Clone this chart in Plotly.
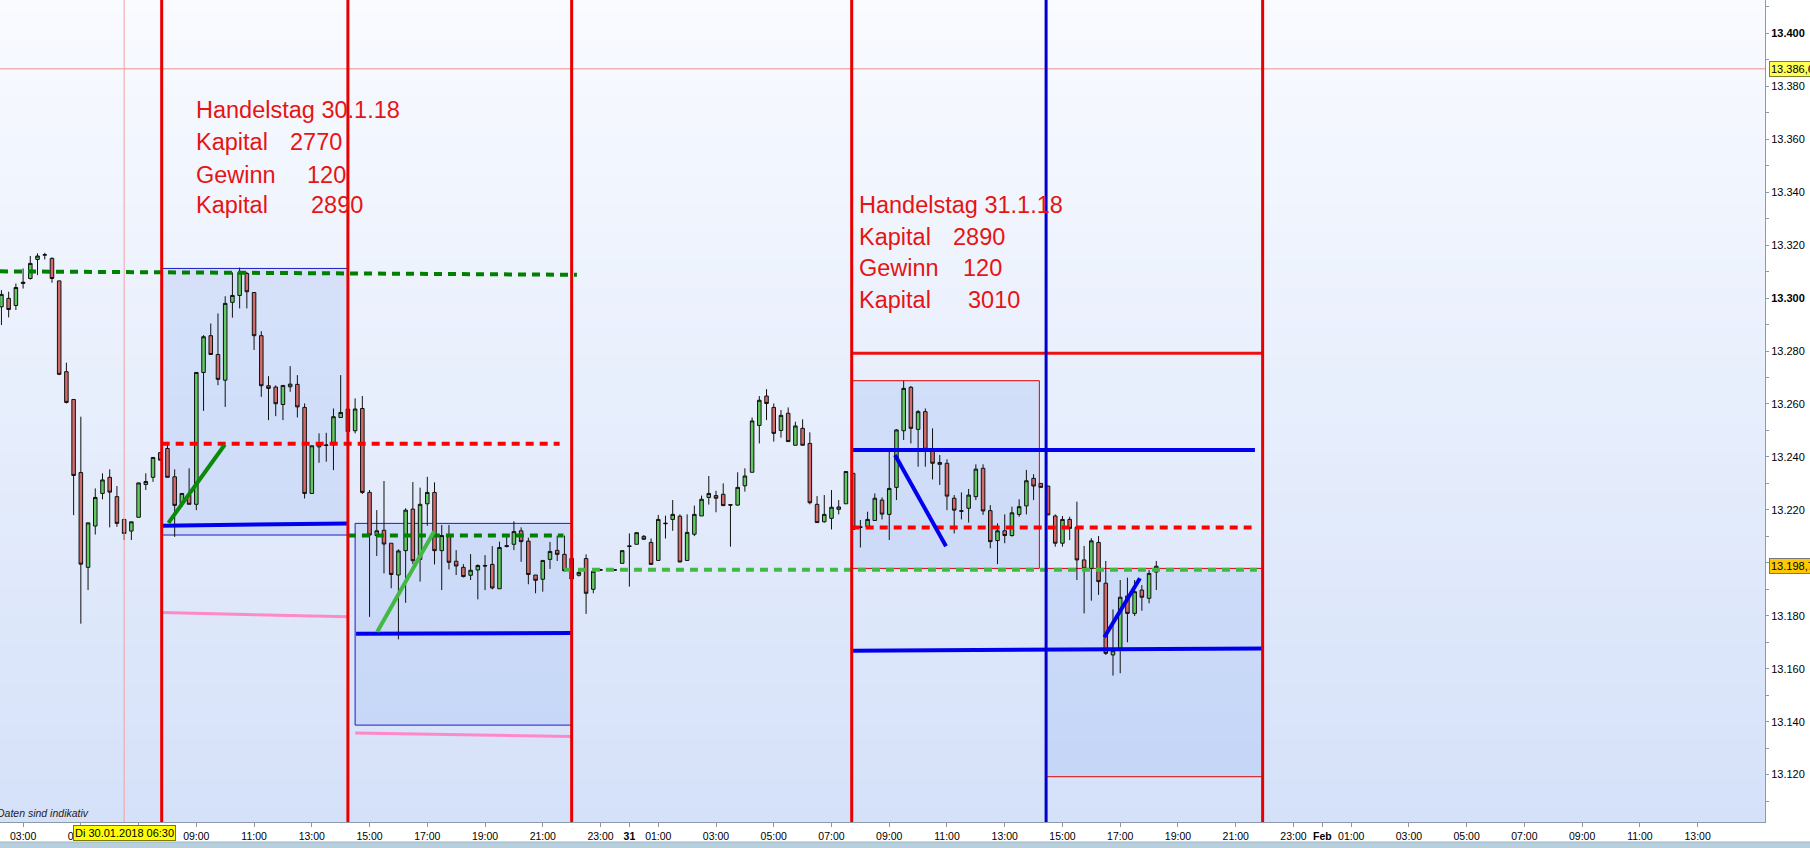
import plotly.graph_objects as go
import pandas as pd

# ---------------- data ----------------
candle_times = pd.date_range("2018-01-30 02:15", periods=161, freq="15min")

open_ = [13296.7, 13299.9, 13297.2, 13305.5, 13307.4, 13314.6, 13316.2, 13315.0, 13306.5, 13272.2,
         13261.7, 13234.1, 13198.3, 13213.9, 13226.2, 13232.3, 13225.0, 13216.4, 13212.0, 13217.2,
         13229.6, 13232.3, 13241.6, 13243.2, 13232.5, 13222.4, 13225.6, 13222.1, 13271.9, 13285.8,
         13278.7, 13269.0, 13298.4, 13301.0, 13309.3, 13302.1, 13285.8, 13266.9, 13266.4, 13259.8,
         13266.5, 13267.4, 13258.7, 13226.2, 13243.8, 13244.3, 13245.5, 13254.9, 13258.1, 13249.9,
         13258.3, 13226.6, 13210.3, 13212.3, 13207.4, 13195.4, 13204.6, 13220.3, 13201.3, 13222.3,
         13226.6, 13204.6, 13210.3, 13200.6, 13198.3, 13195.3, 13197.3, 13199.0, 13199.4, 13190.2,
         13206.5, 13207.0, 13212.1, 13208.2, 13195.4, 13193.8, 13201.3, 13204.7, 13203.2, 13201.7,
         13195.3, 13201.6, 13190.0, 13197.2, 13197.3, 13197.3, 13199.8, 13206.4, 13207.0, 13210.0,
         13207.7, 13200.9, 13215.0, 13216.4, 13217.6, 13200.9, 13210.8, 13217.7, 13224.7, 13225.4,
         13225.9, 13222.0, 13221.8, 13229.1, 13234.2, 13251.9, 13263.0, 13258.7, 13250.0, 13256.5,
         13244.4, 13250.8, 13245.1, 13222.1, 13215.5, 13216.8, 13220.2, 13222.3, 13233.8, 13213.6,
         13213.6, 13216.0, 13223.7, 13218.3, 13228.5, 13249.9, 13266.3, 13250.4, 13257.1, 13242.9,
         13237.2, 13237.6, 13224.4, 13219.7, 13220.6, 13225.0, 13235.7, 13219.7, 13208.4, 13212.1,
         13210.3, 13218.3, 13221.5, 13231.9, 13230.0, 13229.0, 13217.7, 13207.4, 13216.4, 13213.4,
         13201.1, 13197.9, 13207.7, 13192.3, 13165.2, 13167.7, 13187.5, 13180.9, 13189.7, 13186.6,
         13196.5]
high = [13303.0, 13302.4, 13305.5, 13311.2, 13315.9, 13316.9, 13317.1, 13315.4, 13306.5, 13275.6,
        13261.7, 13255.2, 13215.1, 13228.1, 13233.8, 13235.3, 13229.0, 13216.4, 13215.5, 13230.2,
        13233.8, 13239.8, 13241.8, 13245.7, 13235.3, 13226.2, 13235.7, 13271.9, 13286.0, 13290.4,
        13294.2, 13300.7, 13309.7, 13311.5, 13309.9, 13302.1, 13287.5, 13270.5, 13267.0, 13267.0,
        13274.3, 13270.9, 13260.2, 13244.2, 13248.9, 13249.1, 13258.3, 13270.9, 13258.1, 13262.1,
        13263.0, 13227.5, 13219.9, 13230.9, 13207.4, 13205.1, 13220.6, 13230.5, 13228.4, 13232.5,
        13230.4, 13214.3, 13214.3, 13204.8, 13199.5, 13203.3, 13199.4, 13202.9, 13206.3, 13208.0,
        13210.8, 13215.7, 13213.4, 13209.5, 13195.4, 13200.9, 13207.9, 13210.3, 13210.3, 13201.7,
        13197.3, 13203.2, 13197.9, 13197.7, 13197.6, 13197.6, 13204.6, 13211.1, 13211.4, 13210.5,
        13209.2, 13218.1, 13217.8, 13223.7, 13218.3, 13218.3, 13221.6, 13225.4, 13232.8, 13227.2,
        13230.0, 13222.0, 13234.2, 13235.7, 13254.9, 13263.0, 13265.6, 13260.2, 13257.7, 13258.7,
        13253.3, 13254.2, 13249.3, 13225.2, 13225.6, 13227.5, 13223.7, 13234.5, 13233.8, 13216.2,
        13219.3, 13226.2, 13224.7, 13242.0, 13250.5, 13268.7, 13266.8, 13257.7, 13258.3, 13250.8,
        13240.7, 13239.1, 13225.6, 13226.6, 13227.9, 13237.2, 13237.2, 13221.8, 13214.9, 13218.3,
        13221.2, 13224.0, 13235.1, 13233.5, 13230.0, 13229.0, 13218.3, 13217.7, 13217.4, 13223.1,
        13206.4, 13209.3, 13210.1, 13200.7, 13182.4, 13193.5, 13194.4, 13193.5, 13191.6, 13197.3,
        13200.7]
low = [13289.8, 13292.7, 13295.5, 13303.6, 13307.0, 13308.7, 13314.6, 13305.8, 13270.9, 13260.2,
       13218.0, 13177.0, 13189.7, 13210.7, 13224.0, 13213.4, 13213.6, 13208.6, 13208.6, 13217.2,
       13227.5, 13230.6, 13238.6, 13232.3, 13209.8, 13221.2, 13222.1, 13219.9, 13257.4, 13278.5,
       13267.1, 13258.9, 13292.6, 13296.1, 13296.1, 13280.4, 13262.7, 13253.9, 13255.4, 13253.9,
       13264.6, 13254.9, 13224.3, 13226.2, 13237.8, 13238.2, 13235.0, 13254.9, 13249.6, 13248.9,
       13226.0, 13179.6, 13202.6, 13196.0, 13190.4, 13171.1, 13184.9, 13199.5, 13192.9, 13214.0,
       13199.4, 13189.7, 13197.5, 13195.4, 13194.5, 13193.5, 13186.2, 13189.7, 13190.0, 13190.2,
       13205.8, 13204.8, 13200.4, 13191.9, 13188.5, 13189.1, 13197.7, 13200.7, 13196.7, 13193.9,
       13194.8, 13180.7, 13188.5, 13197.0, 13197.0, 13197.0, 13199.8, 13191.0, 13207.0, 13208.6,
       13199.4, 13200.9, 13209.2, 13212.1, 13200.3, 13200.9, 13210.1, 13217.7, 13222.0, 13219.1,
       13221.6, 13206.1, 13221.6, 13226.9, 13234.2, 13245.1, 13253.9, 13245.8, 13247.3, 13245.8,
       13244.4, 13244.4, 13222.1, 13215.2, 13215.2, 13212.6, 13218.3, 13222.3, 13212.6, 13205.8,
       13213.6, 13216.0, 13216.4, 13208.6, 13223.7, 13246.4, 13245.1, 13236.3, 13236.3, 13231.5,
       13229.4, 13219.9, 13211.1, 13216.4, 13215.2, 13223.7, 13218.1, 13205.5, 13199.5, 13207.4,
       13209.9, 13217.4, 13218.3, 13223.7, 13228.5, 13218.1, 13206.1, 13206.1, 13208.6, 13193.5,
       13180.9, 13185.7, 13187.9, 13165.2, 13157.4, 13158.3, 13170.0, 13179.9, 13181.9, 13184.7,
       13189.7]
close = [13301.4, 13295.7, 13304.0, 13306.0, 13313.1, 13315.9, 13316.4, 13307.4, 13271.2, 13260.6,
         13233.0, 13199.5, 13215.1, 13224.7, 13231.3, 13226.7, 13214.9, 13211.1, 13215.5, 13230.2,
         13230.7, 13239.8, 13238.8, 13232.3, 13221.7, 13226.2, 13222.1, 13271.9, 13285.4, 13278.7,
         13269.3, 13298.0, 13301.0, 13309.7, 13302.4, 13285.8, 13266.9, 13265.9, 13260.1, 13267.0,
         13267.5, 13258.9, 13226.2, 13244.2, 13244.8, 13244.5, 13255.2, 13256.8, 13249.6, 13258.1,
         13226.6, 13210.5, 13212.1, 13207.1, 13195.6, 13204.5, 13219.9, 13200.8, 13222.1, 13226.6,
         13204.6, 13210.3, 13200.2, 13198.8, 13194.8, 13197.2, 13199.0, 13198.8, 13190.5, 13205.8,
         13206.2, 13211.8, 13208.0, 13195.6, 13193.4, 13200.9, 13204.3, 13203.2, 13197.0, 13193.9,
         13196.4, 13188.5, 13196.8, 13197.4, 13197.3, 13197.3, 13204.6, 13206.2, 13211.4, 13208.9,
         13199.4, 13216.4, 13214.8, 13218.3, 13200.3, 13211.5, 13218.3, 13224.0, 13226.2, 13224.4,
         13221.6, 13221.8, 13228.5, 13232.8, 13253.6, 13261.4, 13260.2, 13248.9, 13255.7, 13245.8,
         13251.7, 13244.4, 13222.7, 13215.2, 13218.3, 13221.0, 13221.1, 13234.5, 13212.6, 13213.4,
         13216.4, 13224.4, 13218.4, 13228.1, 13250.2, 13265.9, 13250.8, 13257.1, 13242.9, 13237.6,
         13237.9, 13225.2, 13219.9, 13219.5, 13225.6, 13235.4, 13219.6, 13208.0, 13212.1, 13210.3,
         13218.9, 13221.2, 13231.0, 13229.0, 13228.5, 13218.1, 13207.4, 13216.4, 13213.0, 13201.1,
         13197.9, 13208.3, 13192.9, 13165.8, 13166.8, 13187.0, 13180.9, 13189.1, 13187.0, 13196.0,
         13198.7]

# vertical session markers
red_verticals = ["2018-01-30 07:48", "2018-01-30 14:15", "2018-01-30 22:00",
                 "2018-01-31 07:42", "2018-01-31 21:56"]
blue_verticals = ["2018-01-31 14:26"]
crosshair_time = "2018-01-30 06:30"
crosshair_price = 13386.6
last_price = 13198.7

# shaded ranges: (start, end, low, high, outline colour)
ranges = [
    ("2018-01-30 07:48", "2018-01-30 14:15", 13210.5, 13311.2, "#1c1cc8"),
    ("2018-01-30 14:30", "2018-01-30 22:00", 13138.7, 13214.9, "#1c1cc8"),
    ("2018-01-31 07:42", "2018-01-31 14:12", 13197.9, 13268.8, "#e00000"),
    ("2018-01-31 14:26", "2018-01-31 21:56", 13119.2, 13197.9, "#e00000"),
]

# level lines: (t0, v0, t1, v1, colour, width, dash)
levels = [
    ("2018-01-30 02:12", 13310.1, "2018-01-30 22:11", 13308.8, "#008000", 4, "8px,6px"),
    ("2018-01-30 07:48", 13245.0, "2018-01-30 21:35", 13245.0, "#ff0000", 4, "8px,6px"),
    ("2018-01-30 07:48", 13214.0, "2018-01-30 14:15", 13214.9, "#0000ee", 4, "solid"),
    ("2018-01-30 07:48", 13181.2, "2018-01-30 14:15", 13179.6, "#ff88c8", 3, "solid"),
    ("2018-01-30 08:02", 13215.1, "2018-01-30 09:59", 13244.6, "#0a8a0a", 4, "solid"),
    ("2018-01-30 14:15", 13210.3, "2018-01-30 21:43", 13210.3, "#008000", 4, "8px,6px"),
    ("2018-01-30 14:32", 13173.2, "2018-01-30 22:00", 13173.5, "#0000ee", 4, "solid"),
    ("2018-01-30 14:30", 13135.7, "2018-01-30 22:00", 13134.4, "#ff88c8", 3, "solid"),
    ("2018-01-30 15:16", 13174.0, "2018-01-30 17:14", 13211.8, "#44b844", 4, "solid"),
    ("2018-01-30 21:44", 13197.4, "2018-01-31 21:44", 13197.4, "#44b844", 4, "8px,6px"),
    ("2018-01-31 07:42", 13279.2, "2018-01-31 21:56", 13279.2, "#ee1111", 3, "solid"),
    ("2018-01-31 07:42", 13242.6, "2018-01-31 21:40", 13242.6, "#0000ee", 4, "solid"),
    ("2018-01-31 07:42", 13213.3, "2018-01-31 21:33", 13213.3, "#ff0000", 4, "8px,6px"),
    ("2018-01-31 07:42", 13166.8, "2018-01-31 21:56", 13167.6, "#0000ee", 4, "solid"),
    ("2018-01-31 09:12", 13240.7, "2018-01-31 10:58", 13206.3, "#0000ee", 4, "solid"),
    ("2018-01-31 16:27", 13171.9, "2018-01-31 17:41", 13194.2, "#0000ee", 4, "solid"),
]

# text blocks
day1_words = ["Handelstag 30.1.18", "Kapital", "Gewinn", "Kapital"]
day1_numbers = ["", "2770", "120", "2890"]
day2_words = ["Handelstag 31.1.18", "Kapital", "Gewinn", "Kapital"]
day2_numbers = ["", "2890", "120", "3010"]

# axis ticks
x_tick_times = []
x_tick_labels = []
for day, hours in [("2018-01-30", range(3, 24, 2)), ("2018-01-31", range(1, 24, 2)), ("2018-02-01", range(1, 14, 2))]:
    if day == "2018-01-31":
        x_tick_times.append(day + " 00:00"); x_tick_labels.append("<b>31</b>")
    if day == "2018-02-01":
        x_tick_times.append(day + " 00:00"); x_tick_labels.append("<b>Feb</b>")
    for h in hours:
        x_tick_times.append("%s %02d:00" % (day, h))
        x_tick_labels.append("%02d:00" % h)

y_tick_vals = list(range(13120, 13401, 20))
y_tick_text = [("<b>%s</b>" if v % 100 == 0 else "%s") % ("{:,}".format(v).replace(",", ".")) for v in y_tick_vals]

# ---------------- figure ----------------
FONT = "Liberation Sans, Arial, sans-serif"
W, H = 1810, 848
ML, MR, MT, MB = 0, 45, 0, 26
PW, PH = W - ML - MR, H - MT - MB

fig = go.Figure()
fig.add_trace(go.Candlestick(
    x=candle_times, open=open_, high=high, low=low, close=close,
    increasing=dict(line=dict(color="#111111", width=1), fillcolor="#62c862"),
    decreasing=dict(line=dict(color="#111111", width=1), fillcolor="#d26a6a"),
    whiskerwidth=0, showlegend=False, hoverinfo="skip",
))

shapes = []
# background gradient
n = 60
top_c, bot_c = (249, 251, 255), (213, 225, 249)
for i in range(n):
    f = (i + 0.5) / n
    c = tuple(int(round(top_c[k] + (bot_c[k] - top_c[k]) * f)) for k in range(3))
    shapes.append(dict(type="rect", xref="paper", yref="paper", x0=0, x1=1,
                       y0=1 - (i + 1) / n, y1=1 - i / n + 0.001,
                       fillcolor="rgb(%d,%d,%d)" % c, line=dict(width=0), layer="below"))
# shaded ranges
for t0, t1, lo, hi, col in ranges:
    shapes.append(dict(type="rect", xref="x", yref="y", x0=t0, x1=t1, y0=lo, y1=hi,
                       fillcolor="rgba(150,180,240,0.27)", line=dict(color=col, width=1), layer="below"))
# crosshair
shapes.append(dict(type="line", xref="paper", yref="y", x0=0, x1=1, y0=crosshair_price, y1=crosshair_price,
                   line=dict(color="#f09090", width=1)))
shapes.append(dict(type="line", xref="x", yref="paper", x0=crosshair_time, x1=crosshair_time, y0=0, y1=1,
                   line=dict(color="#f4a0a0", width=1)))
# levels
for t0, v0, t1, v1, col, w, d in levels:
    shapes.append(dict(type="line", xref="x", yref="y", x0=t0, y0=v0, x1=t1, y1=v1,
                       line=dict(color=col, width=w, dash=d)))
# verticals
for t in red_verticals:
    shapes.append(dict(type="line", xref="x", yref="paper", x0=t, x1=t, y0=0, y1=1,
                       line=dict(color="#e80000", width=3)))
for t in blue_verticals:
    shapes.append(dict(type="line", xref="x", yref="paper", x0=t, x1=t, y0=0, y1=1,
                       line=dict(color="#0000cc", width=3)))
# bottom bar
shapes.append(dict(type="rect", xref="paper", yref="paper", x0=-0.01, x1=W / PW + 0.01,
                   y0=-(MB + 2) / PH, y1=-(MB - 6) / PH,
                   fillcolor="#b7cedc", line=dict(color="#9fb6c6", width=1)))

annotations = []
def px(x):
    return x / PW
def py(y):
    return 1 - y / PH

RED = "#e61414"
for words, nums, x_w, x_n, ys in [
    (day1_words, day1_numbers, 194, [0, 288, 305, 309], [110, 142, 174.5, 205]),
    (day2_words, day2_numbers, 857, [0, 951.5, 961, 965.5], [205, 236.7, 268.3, 300]),
]:
    for i in range(4):
        annotations.append(dict(text=words[i], xref="paper", yref="paper", x=px(x_w), y=py(ys[i]),
                                xanchor="left", yanchor="middle", showarrow=False,
                                font=dict(family=FONT, size=23.5, color=RED)))
        if nums[i]:
            annotations.append(dict(text=nums[i], xref="paper", yref="paper", x=px(x_n[i]), y=py(ys[i]),
                                    xanchor="left", yanchor="middle", showarrow=False,
                                    font=dict(family=FONT, size=23.5, color=RED)))

annotations.append(dict(text="<i>Daten sind indikativ</i>", xref="paper", yref="paper", x=0, y=py(813),
                        xanchor="left", yanchor="middle", xshift=-5, showarrow=False,
                        font=dict(family=FONT, size=10.5, color="#222222")))
annotations.append(dict(text="Di 30.01.2018 06:30", xref="x", yref="paper", x=crosshair_time, y=0,
                        xanchor="center", yanchor="top", yshift=-3, showarrow=False,
                        bgcolor="#ffff00", bordercolor="#7a7a00", borderwidth=1, borderpad=1,
                        font=dict(family=FONT, size=11, color="#000000")))
annotations.append(dict(text="13.386,6", xref="paper", yref="y", x=1, y=crosshair_price,
                        xanchor="left", yanchor="middle", xshift=4, showarrow=False,
                        bgcolor="#ffff55", bordercolor="#7f7f20", borderwidth=1, borderpad=1,
                        font=dict(family=FONT, size=11, color="#000000")))
annotations.append(dict(text="13.198,7", xref="paper", yref="y", x=1, y=last_price,
                        xanchor="left", yanchor="middle", xshift=4, showarrow=False,
                        bgcolor="#ffc800", bordercolor="#777777", borderwidth=1, borderpad=1,
                        font=dict(family=FONT, size=11, color="#000000")))

fig.update_layout(
    width=W, height=H,
    margin=dict(l=ML, r=MR, t=MT, b=MB, pad=0),
    paper_bgcolor="#ffffff", plot_bgcolor="#eef2fc",
    shapes=shapes, annotations=annotations,
    font=dict(family=FONT, color="#000000"),
    showlegend=False,
    xaxis=dict(type="date", range=["2018-01-30 02:12", "2018-02-01 15:20"],
               tickvals=x_tick_times, ticktext=x_tick_labels,
               tickfont=dict(family=FONT, size=10.5, color="#000000"),
               ticks="outside", ticklen=4, tickcolor="#8899a8",
               showline=True, linecolor="#8a9aaa", linewidth=1,
               showgrid=False, zeroline=False, rangeslider=dict(visible=False), fixedrange=True),
    yaxis=dict(side="right", range=[13102.1, 13412.6],
               tickvals=y_tick_vals, ticktext=y_tick_text,
               tickfont=dict(family=FONT, size=11, color="#000000"),
               ticks="outside", ticklen=3, tickcolor="#8899a8",
               minor=dict(dtick=10, tick0=13110, ticks="outside", ticklen=3, tickcolor="#8899a8"),
               showline=True, linecolor="#8a9aaa", linewidth=1,
               showgrid=False, zeroline=False, fixedrange=True),
)

fig.write_html("out.html", config={"displayModeBar": False},
               post_script="document.body.style.margin='0';document.body.style.padding='0';"
                           "document.body.style.overflow='hidden';")
